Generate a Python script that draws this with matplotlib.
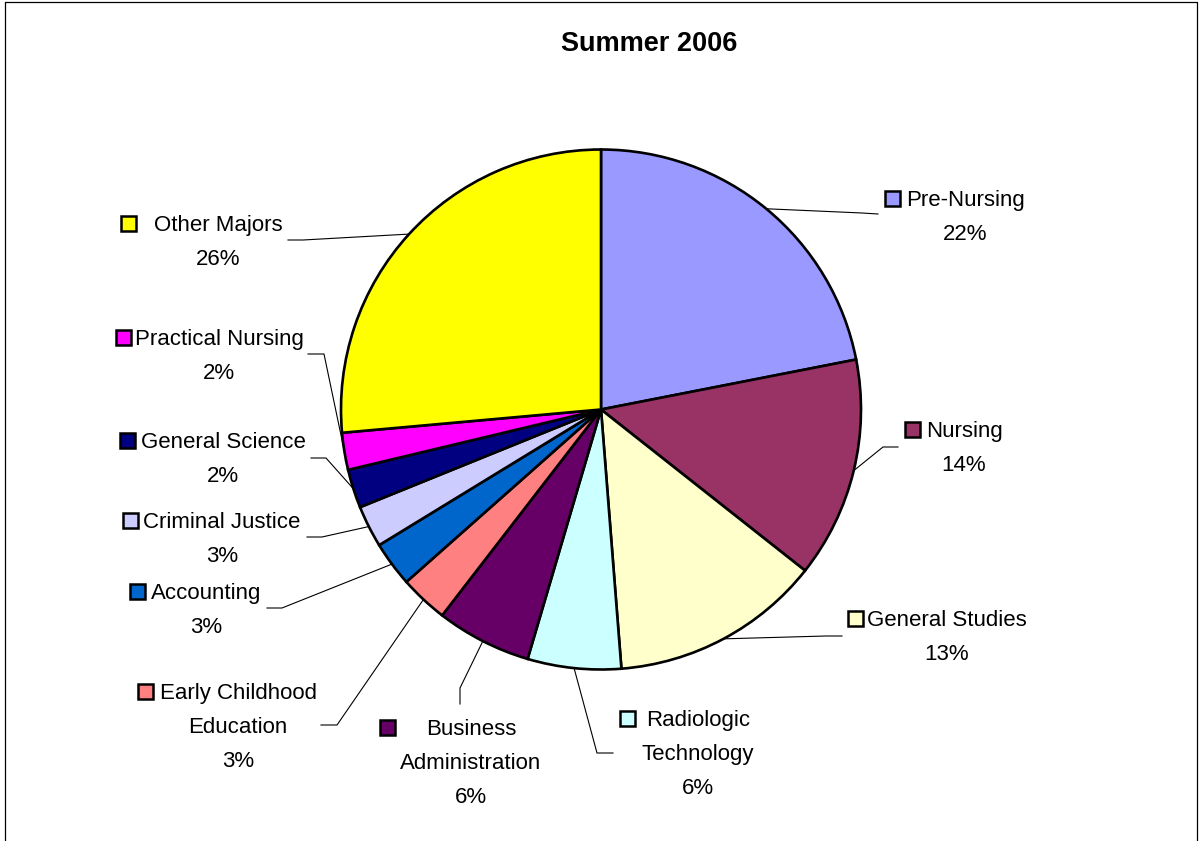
import numpy as np
import matplotlib.pyplot as plt
from matplotlib.patches import Rectangle

plt.rcParams['font.family'] = ['Liberation Sans', 'DejaVu Sans']

majors = ['Pre-Nursing', 'Nursing', 'General Studies', 'Radiologic\nTechnology',
          'Business\nAdministration', 'Early Childhood\nEducation', 'Accounting',
          'Criminal Justice', 'General Science', 'Practical Nursing', 'Other Majors']
shares = [21.9, 13.7, 13.1, 5.8, 5.9, 3.0, 2.8, 2.6, 2.4, 2.3, 26.4]
colors = ['#9999FF', '#993366', '#FFFFCC', '#CCFFFF', '#660066', '#FF8080',
          '#0066CC', '#CCCCFF', '#000080', '#FF00FF', '#FFFF00']

W, H = 1200, 841
center = (601, 409.5)
radius = 260

# label layout in pixels (y down): text centre x, first line y, key centre, leader start/elbow
label_pos = [(965, 198), (964, 429), (947, 618), (698, 718), (471, 727), (238, 691),
             (206, 591), (222, 520), (223, 440), (219, 337), (218, 223)]
key_pos = [(892, 198), (912, 429), (855, 618), (627, 718), (387, 727), (145, 691),
           (137, 591), (130, 520), (127, 440), (123, 337), (128, 223)]
leaders = [[(878, 214), (862, 213)], [(898, 447), (883, 447)], [(842, 636), (826, 636)],
           [(613, 753), (597, 753)], [(460, 704), (460, 688)], [(321, 725), (337, 725)],
           [(267, 608), (282, 608)], [(307, 537), (322, 537)], [(311, 458), (326, 458)],
           [(308, 354), (324, 354)], [(288, 240), (303, 240)]]

fig = plt.figure(figsize=(W / 100, H / 100), dpi=100)
ax = fig.add_axes([0, 0, 1, 1])

# y axis runs downward, so counterclockwise in data = clockwise on screen
wedges, _ = ax.pie(shares, colors=colors, center=center, radius=radius,
                   startangle=-90, counterclock=True,
                   wedgeprops=dict(edgecolor='black', linewidth=1.9))
ax.set_xlim(0, W)
ax.set_ylim(H, 0)
ax.set_aspect('auto')
ax.axis('off')

total = sum(shares)
line_h = 34
for i, w in enumerate(wedges):
    mid = np.deg2rad((w.theta1 + w.theta2) / 2)
    edge = (center[0] + radius * np.cos(mid), center[1] + radius * np.sin(mid))
    pts = leaders[i] + [edge]
    ax.plot([p[0] for p in pts], [p[1] for p in pts], color='black', lw=0.8, zorder=1)

    lines = majors[i].split('\n') + [f'{round(shares[i] / total * 100):.0f}%']
    x, y = label_pos[i]
    for j, t in enumerate(lines):
        ax.text(x, y + j * line_h + 8, t, fontsize=16, ha='center', va='baseline')
    kx, ky = key_pos[i]
    ax.add_patch(Rectangle((kx - 7.5, ky - 7.5), 15, 15, facecolor=colors[i],
                           edgecolor='black', linewidth=1.8))

ax.text(649, 42 + 9, 'Summer 2006', fontsize=19.5, fontweight='bold', ha='center', va='baseline')

# chart area border
ax.plot([5, 5, 1197, 1197], [H + 5, 2, 2, H + 5], color='black', lw=0.9, clip_on=False)

fig.savefig('out.png', dpi=100)
